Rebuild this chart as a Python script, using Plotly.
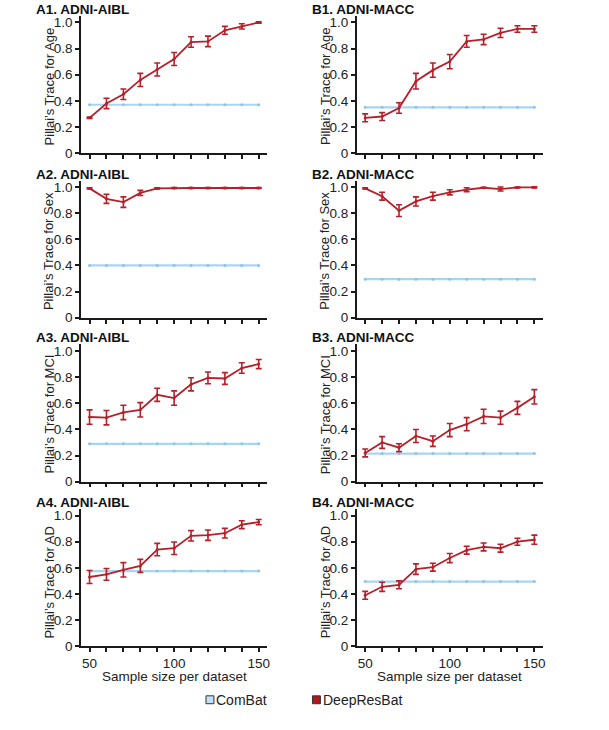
import plotly.graph_objects as go

# ---------------- data ----------------
sample_sizes = [50, 60, 70, 80, 90, 100, 110, 120, 130, 140, 150]

panel_titles = ["A1. ADNI-AIBL", "B1. ADNI-MACC",
                "A2. ADNI-AIBL", "B2. ADNI-MACC",
                "A3. ADNI-AIBL", "B3. ADNI-MACC",
                "A4. ADNI-AIBL", "B4. ADNI-MACC"]
y_titles = ["Pillai’s Trace for Age", "Pillai’s Trace for Age",
            "Pillai’s Trace for Sex", "Pillai’s Trace for Sex",
            "Pillai’s Trace for MCI", "Pillai’s Trace for MCI",
            "Pillai’s Trace for AD", "Pillai’s Trace for AD"]

# ComBat (constant across sample sizes)
combat_A1 = [0.37] * 11
combat_B1 = [0.35] * 11
combat_A2 = [0.40] * 11
combat_B2 = [0.295] * 11
combat_A3 = [0.29] * 11
combat_B3 = [0.215] * 11
combat_A4 = [0.575] * 11
combat_B4 = [0.495] * 11

# DeepResBat means
deep_A1 = [0.27, 0.38, 0.45, 0.56, 0.64, 0.72, 0.85, 0.855, 0.94, 0.97, 1.00]
deep_B1 = [0.27, 0.28, 0.345, 0.55, 0.635, 0.70, 0.855, 0.87, 0.92, 0.95, 0.95]
deep_A2 = [0.99, 0.91, 0.885, 0.955, 0.99, 0.993, 0.993, 0.993, 0.993, 0.993, 0.993]
deep_B2 = [0.99, 0.93, 0.82, 0.89, 0.93, 0.96, 0.98, 0.995, 0.985, 0.997, 0.998]
deep_A3 = [0.495, 0.49, 0.53, 0.55, 0.665, 0.64, 0.745, 0.795, 0.79, 0.87, 0.90]
deep_B3 = [0.22, 0.30, 0.26, 0.35, 0.31, 0.395, 0.44, 0.50, 0.49, 0.565, 0.65]
deep_A4 = [0.53, 0.55, 0.585, 0.615, 0.74, 0.75, 0.845, 0.85, 0.865, 0.93, 0.95]
deep_B4 = [0.39, 0.455, 0.47, 0.59, 0.605, 0.675, 0.735, 0.76, 0.75, 0.80, 0.815]

# DeepResBat error (half-length)
err_A1 = [0.005, 0.04, 0.04, 0.05, 0.05, 0.05, 0.04, 0.04, 0.03, 0.02, 0.005]
err_B1 = [0.03, 0.03, 0.04, 0.06, 0.055, 0.055, 0.045, 0.04, 0.035, 0.025, 0.025]
err_A2 = [0.005, 0.035, 0.04, 0.02, 0.005, 0.004, 0.004, 0.004, 0.004, 0.004, 0.004]
err_B2 = [0.005, 0.03, 0.045, 0.035, 0.03, 0.02, 0.015, 0.004, 0.015, 0.004, 0.004]
err_A3 = [0.055, 0.055, 0.055, 0.055, 0.05, 0.055, 0.05, 0.045, 0.045, 0.04, 0.035]
err_B3 = [0.03, 0.045, 0.03, 0.05, 0.04, 0.05, 0.05, 0.055, 0.05, 0.05, 0.055]
err_A4 = [0.05, 0.045, 0.055, 0.05, 0.047, 0.048, 0.04, 0.04, 0.037, 0.03, 0.02]
err_B4 = [0.03, 0.035, 0.03, 0.04, 0.03, 0.035, 0.03, 0.03, 0.03, 0.027, 0.035]

combat_series = [combat_A1, combat_B1, combat_A2, combat_B2,
                 combat_A3, combat_B3, combat_A4, combat_B4]
deep_series = [deep_A1, deep_B1, deep_A2, deep_B2,
               deep_A3, deep_B3, deep_A4, deep_B4]
err_series = [err_A1, err_B1, err_A2, err_B2,
              err_A3, err_B3, err_A4, err_B4]

y_tickvals = [0, 0.2, 0.4, 0.6, 0.8, 1.0]
y_ticktext = ["0", "0.2", "0.4", "0.6", "0.8", "1.0"]
x_ticktext = ["50", "", "", "", "", "100", "", "", "", "", "150"]

legend_names = ["ComBat", "DeepResBat"]

# ---------------- style ----------------
W, H = 609, 730
COMBAT_COLOR = "#A9D5F3"
COMBAT_MARK = "#8FC3EA"
DEEP_COLOR = "#B5212A"
AXIS_COLOR = "#1a1a1a"
FONT = "Liberation Sans, Arial, sans-serif"


def px(xp):   # page x pixel -> paper fraction
    return xp / W


def py(yp):   # page y pixel -> paper fraction
    return 1 - yp / H


col_axis_px = [(81.5, 268.5), (358.5, 545.5)]   # pixel extents of x axes
row_bottom_px = [154, 320.7, 486.7, 653.3]       # pixel y of value 0
px_per_unit = 132.3
y_top_val = 1.05

fig = go.Figure()
layout_axes = {}
annotations = []

for i in range(8):
    r, c = divmod(i, 2)
    idx = i + 1
    xa = "x" if idx == 1 else f"x{idx}"
    ya = "y" if idx == 1 else f"y{idx}"
    xkey = "xaxis" if idx == 1 else f"xaxis{idx}"
    ykey = "yaxis" if idx == 1 else f"yaxis{idx}"

    x0, x1 = col_axis_px[c]
    yb = row_bottom_px[r]
    yt = yb - y_top_val * px_per_unit

    fig.add_trace(go.Scatter(
        x=sample_sizes, y=combat_series[i], mode="lines+markers",
        line=dict(color=COMBAT_COLOR, width=2.2),
        marker=dict(color=COMBAT_MARK, size=3, symbol="circle"),
        xaxis=xa, yaxis=ya, showlegend=False, name=legend_names[0]))
    fig.add_trace(go.Scatter(
        x=sample_sizes, y=deep_series[i], mode="lines+markers",
        line=dict(color=DEEP_COLOR, width=1.8),
        marker=dict(color=DEEP_COLOR, size=3, symbol="circle"),
        error_y=dict(type="data", array=err_series[i], visible=True,
                     color=DEEP_COLOR, thickness=1.6, width=3),
        xaxis=xa, yaxis=ya, showlegend=False, name=legend_names[1]))

    bottom_row = (r == 3)
    layout_axes[xkey] = dict(
        domain=[px(x0), px(x1)], anchor=ya, range=[45, 155],
        tickvals=sample_sizes, ticktext=x_ticktext,
        showticklabels=bottom_row, ticks="outside", ticklen=4, tickwidth=1.5,
        tickcolor=AXIS_COLOR, showline=True, linecolor=AXIS_COLOR, linewidth=1.6,
        showgrid=False, zeroline=False,
        tickfont=dict(size=13.5, color="#222", family=FONT), fixedrange=True)
    layout_axes[ykey] = dict(
        domain=[py(yb), py(yt)], anchor=xa, range=[0, y_top_val],
        tickvals=y_tickvals, ticktext=y_ticktext,
        ticks="outside", ticklen=4, tickwidth=1.5, tickcolor=AXIS_COLOR,
        showline=True, linecolor=AXIS_COLOR, linewidth=1.6,
        showgrid=False, zeroline=False,
        tickfont=dict(size=13.5, color="#222", family=FONT), fixedrange=True)

    # panel title
    annotations.append(dict(
        text=f"<b>{panel_titles[i]}</b>", xref="paper", yref="paper",
        x=px(x0 - 47), y=py(yb - 145.5), xanchor="left", yanchor="middle",
        showarrow=False, font=dict(size=13.5, color="#111", family=FONT)))
    # y-axis title
    annotations.append(dict(
        text=y_titles[i], xref="paper", yref="paper", textangle=-90,
        x=px(x0 - 32), y=py(yb - 6), xanchor="center", yanchor="bottom",
        showarrow=False, font=dict(size=13, color="#222", family=FONT)))
    # x-axis title on bottom row
    if bottom_row:
        annotations.append(dict(
            text="Sample size per dataset", xref="paper", yref="paper",
            x=px((x0 + x1) / 2), y=py(683.5), xanchor="center", yanchor="middle",
            showarrow=False, font=dict(size=13.5, color="#222", family=FONT)))

# legend (drawn manually: square swatches + labels)
legend_fills = ["#BFE1F8", "#B8141B"]
legend_x_px = [207, 314]
shapes = []
for name, fill, lx in zip(legend_names, legend_fills, legend_x_px):
    shapes.append(dict(type="rect", xref="paper", yref="paper",
                       x0=px(lx), x1=px(lx + 8),
                       y0=py(711.5), y1=py(703.5),
                       fillcolor=fill, line=dict(color="#333", width=1)))
    annotations.append(dict(
        text=name, xref="paper", yref="paper", x=px(lx + 8.5), y=py(707.5),
        xanchor="left", yanchor="middle", showarrow=False,
        font=dict(size=14, color="#222", family=FONT)))

fig.update_layout(
    width=W, height=H, margin=dict(l=0, r=0, t=0, b=0),
    paper_bgcolor="white", plot_bgcolor="white",
    annotations=annotations, shapes=shapes, showlegend=False,
    font=dict(family=FONT), **layout_axes)

# remove the browser's default 8px body margin so the figure sits at the page origin
fig.write_html("out.html", config={"displayModeBar": False},
               post_script="document.body.style.margin='0';document.body.style.overflow='hidden';")
